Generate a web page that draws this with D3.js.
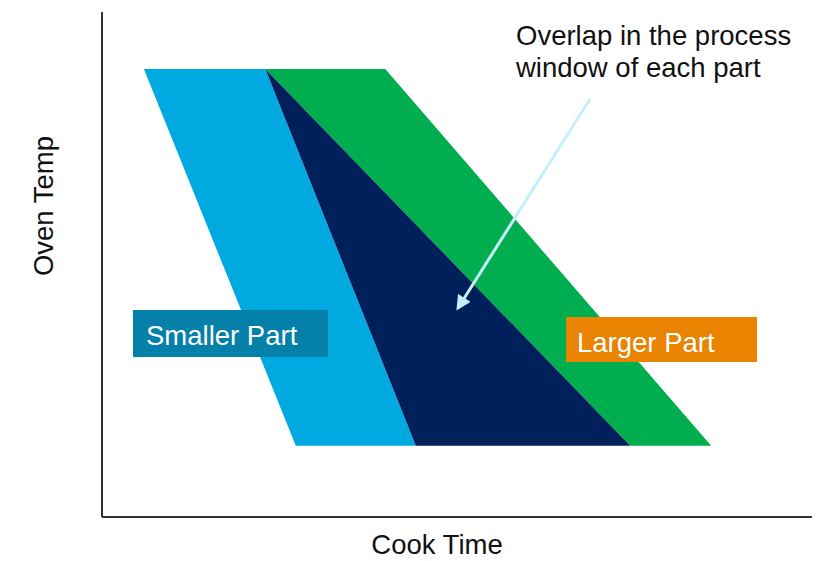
<!DOCTYPE html>
<html>
<head>
<meta charset="utf-8">
<script src="https://cdn.jsdelivr.net/npm/d3@7"></script>
<style>
  body { margin: 0; background: #fff; }
  text { font-family: "Liberation Sans", Arial, sans-serif; }
</style>
</head>
<body>
<div id="chart"></div>
<script>
// process windows, in (cook time, oven temp) units 0..100
var smallerPart = [[5.9, 88.7], [23.0, 88.7], [44.2, 14.1], [27.3, 14.1]];
var largerPart = [[23.0, 88.7], [39.9, 88.7], [85.8, 14.1], [74.4, 14.1]];
var labels = ["Smaller Part", "Larger Part"];
var noteLines = ["Overlap in the process", "window of each part"];
var axisTitles = ["Cook Time", "Oven Temp"];

var WIDTH = 832, HEIGHT = 561, FS = 27.5;

var svg = d3.select('#chart').append('svg').attr('width', WIDTH).attr('height', HEIGHT);

var x = d3.scaleLinear().domain([0, 100]).range([102, 812]);
var y = d3.scaleLinear().domain([0, 100]).range([517, 12]);

var line = d3.line().x(function(d) { return x(d[0]); }).y(function(d) { return y(d[1]); });

// overlap = top-right & bottom-right of smaller, bottom-left of larger
var overlap = [smallerPart[1], smallerPart[2], largerPart[3]];

svg.append('path').attr('d', line(smallerPart) + 'Z').attr('fill', '#00a9e0');
svg.append('path').attr('d', line(largerPart) + 'Z').attr('fill', '#00ae4f');
svg.append('path').attr('d', line(overlap) + 'Z').attr('fill', '#00205b');

// axes, no ticks
svg.append('line').attr('x1', x(0)).attr('x2', x(0)).attr('y1', y(100)).attr('y2', y(0))
    .attr('stroke', '#333').attr('stroke-width', 2);
svg.append('line').attr('x1', x(0)).attr('x2', x(100)).attr('y1', y(0)).attr('y2', y(0))
    .attr('stroke', '#333').attr('stroke-width', 2);

svg.append('text').attr('x', 437).attr('y', 554).attr('text-anchor', 'middle')
    .attr('font-size', FS).attr('fill', '#111').text(axisTitles[0]);
svg.append('text').attr('transform', 'translate(53,206) rotate(-90)').attr('text-anchor', 'middle')
    .attr('font-size', FS).attr('fill', '#111').text(axisTitles[1]);

// label boxes
var boxes = [
    {x: 133, y: 310, w: 195, h: 47, fill: '#0581a9', text: labels[0], tx: 146, ty: 345},
    {x: 566, y: 317, w: 191, h: 45, fill: '#e98300', text: labels[1], tx: 577, ty: 352}
];
var g = svg.selectAll('g.label').data(boxes).enter().append('g').attr('class', 'label');
g.append('rect').attr('x', function(d) { return d.x; }).attr('y', function(d) { return d.y; })
    .attr('width', function(d) { return d.w; }).attr('height', function(d) { return d.h; })
    .attr('fill', function(d) { return d.fill; });
g.append('text').attr('x', function(d) { return d.tx; }).attr('y', function(d) { return d.ty; })
    .attr('font-size', FS).attr('fill', '#fff').text(function(d) { return d.text; });

// note + arrow
svg.selectAll('text.note').data(noteLines).enter().append('text').attr('class', 'note')
    .attr('x', 516).attr('y', function(d, i) { return 45 + i * 32; })
    .attr('font-size', FS).attr('fill', '#111').text(function(d) { return d; });

svg.append('defs').append('marker').attr('id', 'head')
    .attr('viewBox', '0 0 10 10').attr('refX', 8).attr('refY', 5)
    .attr('markerWidth', 5).attr('markerHeight', 5).attr('orient', 'auto')
    .append('path').attr('d', 'M0,0L10,5L0,10Z').attr('fill', '#c6effc');
svg.append('line').attr('x1', 590).attr('y1', 99).attr('x2', 458).attr('y2', 308)
    .attr('stroke', '#c6effc').attr('stroke-width', 3).attr('marker-end', 'url(#head)');
</script>
</body>
</html>
